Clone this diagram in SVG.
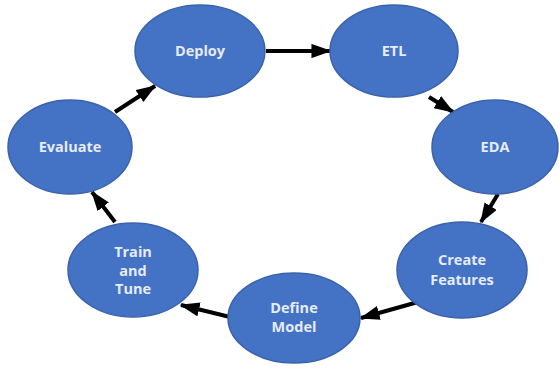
<svg xmlns="http://www.w3.org/2000/svg" width="559" height="368" viewBox="0 0 559 368">
  <style>
    .node ellipse { fill: #4472C4; stroke: #3A62AC; stroke-width: 1.5; }
    .node text { font-family: "Open Sans", "DejaVu Sans", sans-serif; font-weight: bold; font-size: 14.5px; fill: #E6ECF8; text-anchor: middle; }
    .edge { stroke: #000; stroke-width: 4; fill: none; marker-end: url(#arrow); }
  </style>
  <defs>
    <marker id="arrow" viewBox="0 0 14 10" refX="13" refY="5" markerWidth="5" markerHeight="3.6" orient="auto" markerUnits="strokeWidth">
      <path d="M0,0 L14,5 L0,10 z" fill="#000"/>
    </marker>
  </defs>
  <rect width="559" height="368" fill="#fff"/>

  <g id="connectors">
    <line class="edge" x1="266" y1="51" x2="330" y2="51"/>
    <line class="edge" x1="429" y1="97" x2="453" y2="112"/>
    <line class="edge" x1="498" y1="194" x2="481" y2="222"/>
    <line class="edge" x1="418" y1="302" x2="361" y2="318"/>
    <line class="edge" x1="230" y1="317" x2="181" y2="305"/>
    <line class="edge" x1="115" y1="222" x2="92" y2="192"/>
    <line class="edge" x1="115" y1="112" x2="155" y2="86"/>
  </g>

  <g id="deploy" class="node">
    <ellipse cx="200" cy="51" rx="65" ry="46"/>
    <text x="200" y="56">Deploy</text>
  </g>
  <g id="etl" class="node">
    <ellipse cx="394" cy="51" rx="64" ry="46"/>
    <text x="394" y="56">ETL</text>
  </g>
  <g id="eda" class="node">
    <ellipse cx="495" cy="147" rx="63" ry="47"/>
    <text x="495" y="152">EDA</text>
  </g>
  <g id="create-features" class="node">
    <ellipse cx="462" cy="270" rx="65" ry="48"/>
    <text x="462" y="265">Create</text>
    <text x="462" y="285">Features</text>
  </g>
  <g id="define-model" class="node">
    <ellipse cx="294" cy="318" rx="66" ry="45"/>
    <text x="294" y="313">Define</text>
    <text x="294" y="332">Model</text>
  </g>
  <g id="train-and-tune" class="node">
    <ellipse cx="133" cy="270" rx="65" ry="47"/>
    <text x="133" y="257">Train</text>
    <text x="133" y="276">and</text>
    <text x="133" y="294">Tune</text>
  </g>
  <g id="evaluate" class="node">
    <ellipse cx="70" cy="147" rx="62" ry="47"/>
    <text x="70" y="152">Evaluate</text>
  </g>
</svg>
